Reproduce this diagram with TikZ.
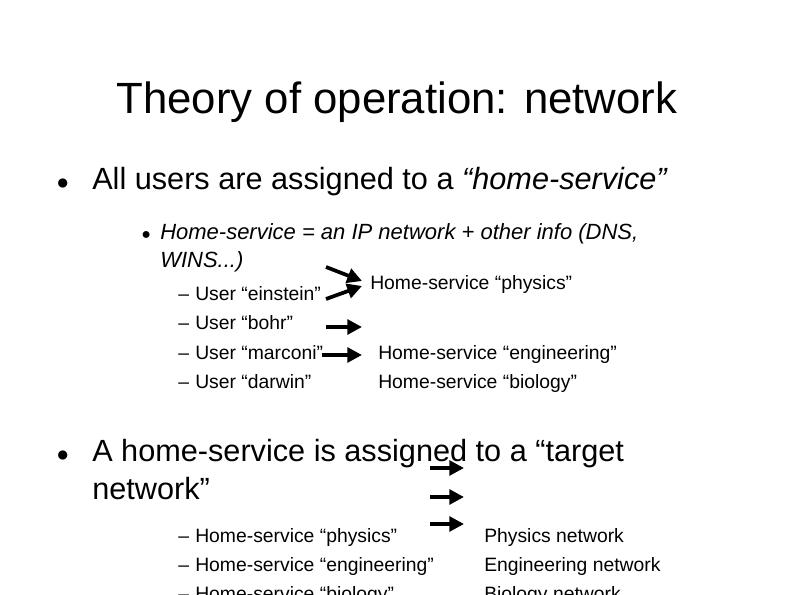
\documentclass[tikz,border=0pt]{standalone}
\usepackage{fontspec}
\setmainfont{Liberation Sans}
\usetikzlibrary{arrows.meta}
\begin{document}
\begin{tikzpicture}[x=0.75pt,y=-0.75pt,
 ttl/.style={anchor=base,font=\fontsize{32.8}{38}\selectfont,inner sep=0},
 lone/.style={anchor=base west,font=\fontsize{23}{28}\selectfont,inner sep=0},
 ltwo/.style={anchor=base west,font=\fontsize{16.5}{20}\selectfont,inner sep=0},
 lthree/.style={anchor=base west,font=\fontsize{14.5}{17}\selectfont,inner sep=0},
 arr/.style={line width=2.8pt,-{Triangle[length=11pt,width=11pt]}}]
\useasboundingbox (0,0) rectangle (794,595);
\node[ttl] (t) at (397,114) {Theory of operation: network};
\node[lone] (b1) at (56,190) {\fontsize{16}{16}\selectfont●};
\node[lone] (a1) at (92,190) {All users are assigned to a \textit{“home-service”}};
\node[ltwo] (b2) at (141,240) {\fontsize{12}{12}\selectfont●};
\node[ltwo] (a2) at (160,240) {\textit{Home-service = an IP network + other info (DNS,}};
\node[ltwo] (a3) at (160,268) {\textit{WINS...)}};
\foreach \y/\t [count=\i] in {301/User “einstein”,330/User “bohr”,360/User “marconi”,389/User “darwin”}{
 \node[lthree] (d\i) at (178,\y) {–};
 \node[lthree] (u\i) at (195,\y) {\t};}
\node[lthree] (h1) at (370,290) {Home-service “physics”};
\node[lthree] (h2) at (378,360) {Home-service “engineering”};
\node[lthree] (h3) at (378,389) {Home-service “biology”};
\coordinate (s1) at (326,267); \coordinate (e1) at (362,281);
\coordinate (s2) at (326,299); \coordinate (e2) at (362,286);
\coordinate (s3) at (326,327); \coordinate (e3) at (362,327);
\coordinate (s4) at (322,355); \coordinate (e4) at (362,355);
\foreach \i in {1,...,4} \draw[arr] (s\i) -- (e\i);
\node[lone] (b3) at (56,462) {\fontsize{16}{16}\selectfont●};
\node[lone] (a4) at (92,462) {A home-service is assigned to a “target};
\node[lone] (a5) at (92,500) {network”};
\foreach \y/\t/\r [count=\i] in {543/Home-service “physics”/Physics network,572/Home-service “engineering”/Engineering network,601/Home-service “biology”/Biology network}{
 \node[lthree] (p\i) at (178,\y) {–};
 \node[lthree] (q\i) at (195,\y) {\t};
 \node[lthree] (r\i) at (484,\y) {\r};}
\foreach \y [count=\i] in {468,497,524}{
 \coordinate (f\i) at (430,\y); \coordinate (g\i) at (464,\y);
 \draw[arr] (f\i) -- (g\i);}
\end{tikzpicture}
\end{document}
